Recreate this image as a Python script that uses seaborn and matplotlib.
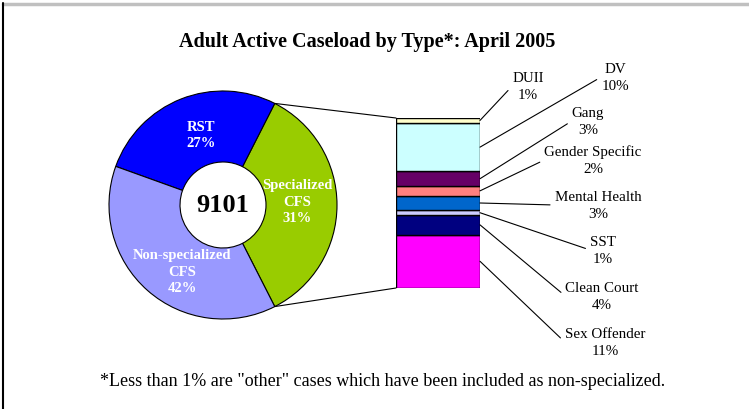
import numpy as np
import matplotlib
matplotlib.use("Agg")
import matplotlib.pyplot as plt
from matplotlib.patches import ConnectionPatch
from matplotlib.lines import Line2D
import seaborn as sns

# main donut (slice sizes as drawn, labels as printed)
main_types = ["RST", "Non-specialized\nCFS", "Specialized\nCFS"]
main_labels = ["RST\n27%", "Non-specialized\nCFS\n42%", "Specialized\nCFS\n31%"]
main_colors = ["#0000FF", "#9999FF", "#99CC00"]
total_cases = "9101"

# breakdown of specialized CFS (bottom to top)
sub_types = ["Sex Offender", "Clean Court", "SST", "Mental Health",
             "Gender Specific", "Gang", "DV", "DUII"]
sub_pct = [11, 4, 1, 3, 2, 3, 10, 1]
sub_colors = ["#FF00FF", "#000080", "#CCCCFF", "#0066CC",
              "#FF8080", "#660066", "#CCFFFF", "#FFFFCC"]

main_sizes = [27, 100 - 27 - sum(sub_pct), sum(sub_pct)]

# label positions (donut units / figure pixels from top-left)
main_label_pos = [(-0.19, 0.62), (-0.36, -0.58), (0.65, 0.035)]
sub_label_pos = [(605, 343), (602, 297), (603, 251), (598, 206),
                 (593, 161), (588, 122), (615, 78), (528, 87)]

sns.set_theme(style="white")
plt.rcParams["font.family"] = ["Liberation Serif", "DejaVu Serif"]
plt.rcParams["text.color"] = "black"

W, H = 749, 410
fig = plt.figure(figsize=(W / 100, H / 100), dpi=100)
fig.patch.set_facecolor("white")

# donut
cx, cy, r = 223, 206, 114
ax = fig.add_axes([(cx - r) / W, (H - cy - r) / H, 2 * r / W, 2 * r / H])
spec_share = main_sizes[2] / sum(main_sizes) * 360
wedges, _ = ax.pie([main_sizes[2], main_sizes[0], main_sizes[1]],
                   colors=[main_colors[2], main_colors[0], main_colors[1]],
                   startangle=-spec_share / 2, counterclock=True,
                   wedgeprops=dict(width=1 - 43 / 114, edgecolor="black", linewidth=0.8))
ax.set_xlim(-1, 1)
ax.set_ylim(-1, 1)
ax.set_aspect("equal")
ax.axis("off")
for lab, (lx, ly) in zip(main_labels, main_label_pos):
    ax.text(lx, ly, lab, ha="center", va="center", color="white",
            fontsize=10.5, fontweight="bold", linespacing=1.35)
ax.text(0, 0, total_cases, ha="center", va="center", fontsize=19,
        fontweight="bold", color="black")

# stacked bar
bx0, bx1, by0, by1 = 396, 480, 119, 289
bax = fig.add_axes([bx0 / W, (H - by1) / H, (bx1 - bx0) / W, (by1 - by0) / H])
bottoms = np.concatenate([[0], np.cumsum(sub_pct)[:-1]])
bax.bar([0] * len(sub_pct), sub_pct, bottom=bottoms, width=1,
        color=sub_colors, edgecolor="black", linewidth=1)
bax.set_xlim(-0.5, 0.5)
bax.set_ylim(0, sum(sub_pct))
bax.axis("off")

for lab, pct, b, (tx, ty) in zip(sub_types, sub_pct, bottoms, sub_label_pos):
    bax.annotate(f"{lab}\n{pct}%", xy=(0.5, b + pct / 2), xycoords="data",
                 xytext=(tx, H - ty), textcoords="figure pixels",
                 ha="center", va="center", fontsize=10.8, linespacing=1.4,
                 color="black",
                 arrowprops=dict(arrowstyle="-", color="black", lw=0.8,
                                 relpos=(0, 0.5), shrinkA=1, shrinkB=0))

# connectors from specialized slice to bar
w = wedges[0]
for ang, ybar in [(w.theta2, sum(sub_pct)), (w.theta1, 0)]:
    p = (np.cos(np.radians(ang)), np.sin(np.radians(ang)))
    con = ConnectionPatch(xyA=p, coordsA=ax.transData, xyB=(-0.5, ybar),
                          coordsB=bax.transData, color="black", lw=0.8)
    fig.add_artist(con)

fig.text(367 / W, 1 - 42 / H, "Adult Active Caseload by Type*: April 2005",
         ha="center", va="center", fontsize=14.5, fontweight="bold", color="black")
fig.text(383 / W, 1 - 382 / H,
         '*Less than 1% are "other" cases which have been included as non-specialized.',
         ha="center", va="center", fontsize=13, color="black")

# frame lines
fig.add_artist(Line2D([3 / W, 1], [1 - 5 / H, 1 - 5 / H], color="#C0C0C0", lw=2.5))
fig.add_artist(Line2D([3 / W, 3 / W], [0, 1 - 4 / H], color="black", lw=1.5))

fig.savefig("out.png", dpi=100)
